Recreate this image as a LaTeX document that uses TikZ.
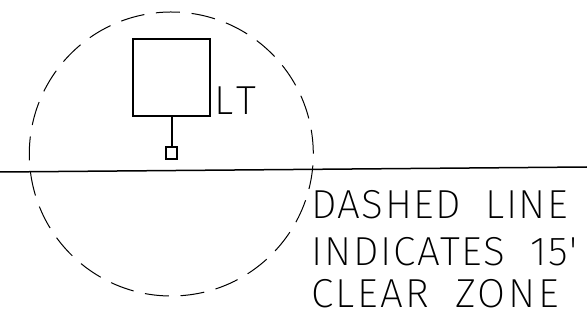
\documentclass[tikz,border=0pt]{standalone}
\usepackage{fontspec}
\newfontfamily\cadfonta[UprightFont=* ExtraLight,LetterSpace=3.7,WordSpace=1.9]{Fira Sans}
\newfontfamily\cadfontc[UprightFont=* ExtraLight,LetterSpace=4.6,WordSpace=1.9]{Fira Sans}
\newfontfamily\cadfontd[UprightFont=* ExtraLight,LetterSpace=6.2,WordSpace=1.9]{Fira Sans}
\newfontfamily\cadfontb[UprightFont=* ExtraLight,LetterSpace=15]{Fira Sans}
\tikzset{
  cadtext/.style={anchor=base west,inner sep=0pt,outer sep=0pt},
  sym/.style={draw=black,line width=2pt,fill=none},
}
\begin{document}
\begin{tikzpicture}[x=1pt,y=-1pt]
\useasboundingbox (0,0) rectangle (587,323);
\fill[white] (0,0) rectangle (587,323);
\coordinate (c) at (171.3,154);
\draw[black,line width=1pt,dash pattern=on 24pt off 11.69pt] (c) ++(96.2:142pt) arc[start angle=96.2,delta angle=-360,radius=142pt];
\coordinate (roadL) at (0,172);
\coordinate (roadR) at (587,167);
\draw[black,line width=1.5pt] (roadL) -- (roadR);
\node[sym,minimum width=77.5pt,minimum height=77.5pt,inner sep=0pt] (box) at (171.5,77.3) {};
\node[sym,minimum width=11.5pt,minimum height=11.5pt,inner sep=0pt] (post) at (171.5,153) {};
\draw[sym] (box.south) -- (post.north);
\node[cadtext,font=\fontsize{40.5}{40.5}\cadfontb] (lt) at (214.5,115) {LT};
\node[cadtext,font=\fontsize{40.5}{40.5}\cadfonta] (l1) at (311,219) {DASHED LINE};
\node[cadtext,font=\fontsize{40.5}{40.5}\cadfontc] (l2) at (311,265.5) {INDICATES 15'};
\node[cadtext,font=\fontsize{40.5}{40.5}\cadfontd] (l3) at (311,308) {CLEAR ZONE};
\end{tikzpicture}
\end{document}
